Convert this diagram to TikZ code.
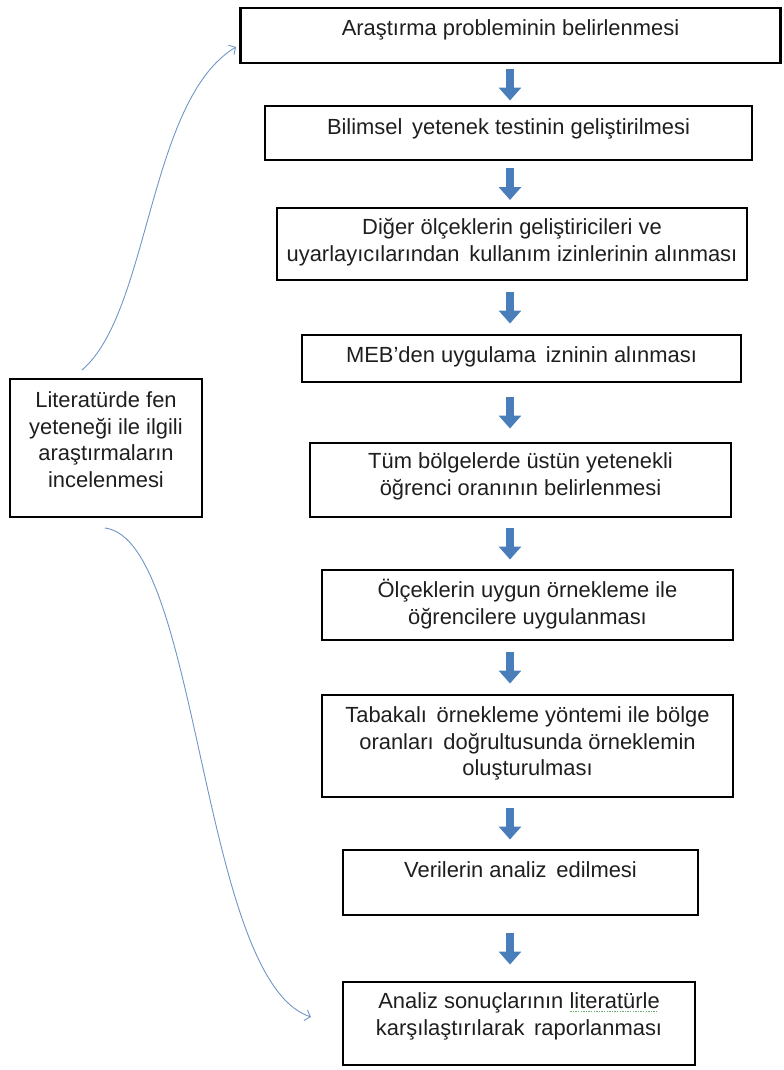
\documentclass[tikz,border=0pt]{standalone}
\usepackage{fontspec}
\setmainfont{Liberation Sans}
\usetikzlibrary{calc,arrows.meta}
\definecolor{flowblue}{HTML}{4A7EBB}
\definecolor{curveblue}{HTML}{7096C6}
\definecolor{textgray}{HTML}{1E1E1E}
\definecolor{spellgreen}{HTML}{6AAE6A}
% first-line strut, so every label hangs from its box top the same way
\newcommand\firstline{\rule{0pt}{21bp}}
% dotted green spell-check mark under a word
\newsavebox\spellbox
\newcommand\spellmark[1]{\sbox\spellbox{#1}%
  \rlap{\textcolor{spellgreen}{\leaders\hbox to 2.6bp{\hss\rule[-3.6bp]{1.3bp}{0.9bp}\hss}\hskip\wd\spellbox}}%
  \usebox\spellbox}
\begin{document}
\begin{tikzpicture}[x=1bp,y=-1bp,
  stepbox/.style={draw=black,line width=2.2bp,rectangle,inner sep=0pt},
  steptext/.style={text=textgray,align=center,inner sep=0pt,anchor=north,
    font=\fontsize{22}{27}\selectfont},
  flowarrow/.style={draw=flowblue,line width=8bp,
    -{Triangle[width=22bp,length=13bp]}},
  sidecurve/.style={draw=curveblue,line width=0.9bp,
    -{Straight Barb[length=5bp,width=11bp]}}]
\useasboundingbox (0,0) rectangle (784,1070);

% main column of steps
\node[stepbox,minimum width=540bp,minimum height=55bp] (b1) at (510.5,35.5) {};
\node[stepbox,minimum width=487bp,minimum height=54bp] (b2) at (508.5,133) {};
\node[stepbox,minimum width=470bp,minimum height=72bp] (b3) at (512,244) {};
\node[stepbox,minimum width=439bp,minimum height=47bp] (b4) at (521.5,358.5) {};
\node[stepbox,minimum width=421bp,minimum height=74bp] (b5) at (520.5,480) {};
\node[stepbox,minimum width=411bp,minimum height=70bp] (b6) at (527.5,605) {};
\node[stepbox,minimum width=411bp,minimum height=102bp] (b7) at (527.5,746) {};
\node[stepbox,minimum width=355bp,minimum height=65bp] (b8) at (520.5,882.5) {};
\node[stepbox,minimum width=352bp,minimum height=83bp] (b9) at (519,1023.5) {};

% side box
\node[stepbox,minimum width=192bp,minimum height=138bp] (lit) at (106,448) {};

% step labels
\node[steptext] (t1) at ($(b1.north)+(0,7)$) {\firstline Araştırma probleminin belirlenmesi};
\node[steptext] (t2) at ($(b2.north)+(0,8)$) {\firstline Bilimsel\, yetenek testinin geliştirilmesi};
\node[steptext] (t3) at ($(b3.north)+(0,6)$) {\firstline Diğer ölçeklerin geliştiricileri ve\\uyarlayıcılarından\, kullanım izinlerinin alınması};
\node[steptext] (t4) at ($(b4.north)+(0,7)$) {\firstline MEB’den uygulama\, izninin alınması};
\node[steptext] (t5) at ($(b5.north)+(0,5)$) {\firstline Tüm bölgelerde üstün yetenekli\\öğrenci oranının belirlenmesi};
\node[steptext] (t6) at ($(b6.north)+(0,7)$) {\firstline Ölçeklerin uygun örnekleme ile\\öğrencilere uygulanması};
\node[steptext] (t7) at ($(b7.north)+(0,7)$) {\firstline Tabakalı\, örnekleme yöntemi ile bölge\\oranları\, doğrultusunda örneklemin\\oluşturulması};
\node[steptext] (t8) at ($(b8.north)+(0,7)$) {\firstline Verilerin analiz\, edilmesi};
\node[steptext] (t9) at ($(b9.north)+(0,6)$) {\firstline Analiz sonuçlarının \spellmark{literatürle}\\karşılaştırılarak\, raporlanması};
\node[steptext] (tl) at ($(lit.north)+(0,8)$) {\firstline Literatürde fen\\yeteneği ile ilgili\\araştırmaların\\incelenmesi};

% block arrows between consecutive steps, centred in each gap
\foreach \a/\b in {b1/b2,b2/b3,b3/b4,b4/b5,b5/b6,b6/b7,b7/b8,b8/b9}{
  \draw[flowarrow] let \p1=(\a.south), \p2=(\b.north),
    \n1={(\y1+\y2)/2} in
    (510bp,\n1+16bp) -- (510bp,\n1-16bp);
}

% literature-review curves
\coordinate (upstart) at (82,370);
\coordinate (upend) at (236,47);
\coordinate (downstart) at (105,528);
\coordinate (downend) at (311,1017);
\draw[sidecurve] (upstart) .. controls (150,312) and (148,100) .. (upend);
\draw[sidecurve] (downstart) .. controls (200,540) and (200,980) .. (downend);
\end{tikzpicture}
\end{document}
